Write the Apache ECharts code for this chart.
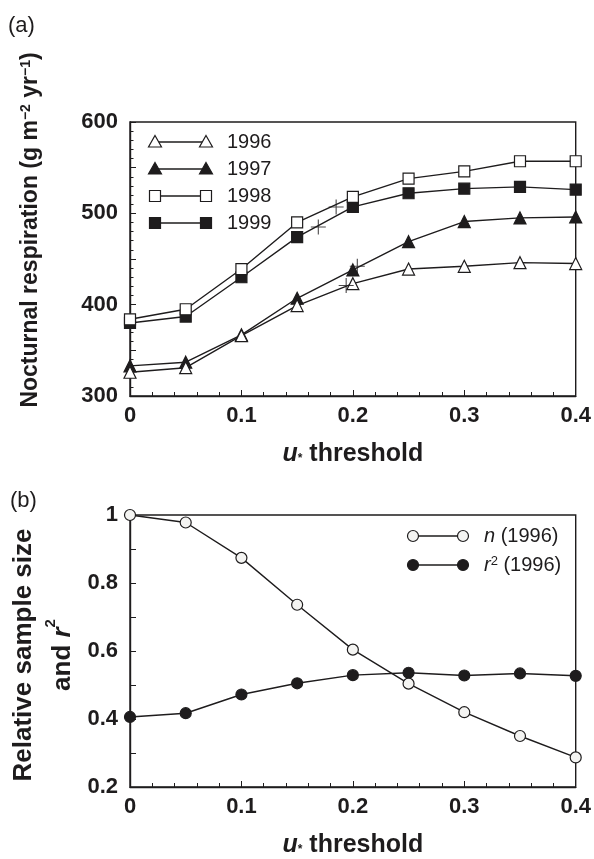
<!DOCTYPE html>
<html>
<head>
<meta charset="utf-8">
<script src="https://cdn.jsdelivr.net/npm/echarts@6/dist/echarts.min.js"></script>
<style>
  html, body { margin: 0; padding: 0; background: #fff; }
  #chart { width: 594px; height: 859px; }
</style>
</head>
<body>
<div id="chart"></div>
<script>
// u* threshold values shared by both panels
const thresholds = [0, 0.05, 0.1, 0.15, 0.2, 0.25, 0.3, 0.35, 0.4];

// Panel (a): nocturnal respiration (g m-2 yr-1) per year
const resp1996 = [326, 331, 366, 399, 423, 439, 442, 446, 445];
const resp1997 = [333, 337, 367, 407, 438, 469, 491, 495, 496];
const resp1998 = [384, 395, 439, 490, 518, 538, 546, 557, 557];
const resp1999 = [380, 387, 430, 474, 507, 522, 527, 529, 526];

// Cross markers on each year's curve (order: 1996, 1997, 1998, 1999)
const crossX = [0.194, 0.204, 0.185, 0.169];
const crossY = [421, 442, 507, 485];

// Panel (b): relative sample size and r2 for 1996
const nRel1996 = [1.0, 0.978, 0.874, 0.736, 0.604, 0.504, 0.42, 0.35, 0.287];
const r2_1996 = [0.406, 0.417, 0.472, 0.505, 0.529, 0.536, 0.528, 0.534, 0.527];

// Axis settings
const respTicks = { min: 300, max: 600, interval: 50, labelEvery: 100 };
const ratioTicks = { min: 0.2, max: 1, interval: 0.1 };
const xTicks = { min: 0, max: 0.4, interval: 0.1 };

const INK = '#1e1c1d';
const FONT = '"Liberation Sans", Arial, Helvetica, sans-serif';

const pairs = (xs, ys) => xs.map((x, i) => [x, ys[i]]);

function xAxisCfg(gridIndex) {
  return {
    type: 'value', gridIndex,
    min: xTicks.min, max: xTicks.max, interval: xTicks.interval,
    axisLine: { show: true, lineStyle: { color: INK, width: 1.4 } },
    axisTick: { show: true, inside: true, length: 6, lineStyle: { color: INK, width: 1 } },
    minorTick: { show: true, splitNumber: 5, length: 4, lineStyle: { color: INK, width: 1 } },
    splitLine: { show: false },
    axisLabel: { color: INK, fontFamily: FONT, fontWeight: 'bold', fontSize: 22, margin: 9 },
    name: '{u|u}{s|*} threshold',
    nameLocation: 'middle', nameGap: 46,
    nameTextStyle: {
      color: INK, fontFamily: FONT, fontWeight: 'bold', fontSize: 25,
      rich: {
        u: { fontFamily: FONT, fontWeight: 'bold', fontStyle: 'italic', fontSize: 25, color: INK },
        s: { fontFamily: FONT, fontWeight: 'bold', fontSize: 12, color: INK, verticalAlign: 'bottom', padding: [0, 0, 2, 0] }
      }
    }
  };
}

const symStyle = (filled) => ({
  color: filled ? INK : '#ffffff',
  borderColor: INK,
  borderWidth: 1.2
});

function lineSeries(name, xi, yi, data, symbol, size, filled, fillOverride) {
  const st = symStyle(filled);
  if (fillOverride) st.color = fillOverride;
  return {
    name, type: 'line', xAxisIndex: xi, yAxisIndex: yi,
    data, symbol, symbolSize: size, showAllSymbol: true,
    lineStyle: { color: INK, width: 1.4 },
    itemStyle: st,
    emphasis: { disabled: true },
    z: filled ? 3 : 4
  };
}

// Legend drawn as marker—line—marker plus text
function legendRow(x1, x2, y, shape, filled, richText, fill) {
  const els = [];
  els.push({ type: 'line', shape: { x1, y1: y, x2, y2: y }, style: { stroke: INK, lineWidth: 1.3 }, z: 10 });
  [x1, x2].forEach(cx => {
    const style = { fill: filled ? INK : (fill || '#fff'), stroke: INK, lineWidth: 1.2 };
    if (shape === 'triangle') {
      els.push({ type: 'polygon', shape: { points: [[cx, y - 6.5], [cx + 6.5, y + 5], [cx - 6.5, y + 5]] }, style, z: 11 });
    } else if (shape === 'rect') {
      els.push({ type: 'rect', shape: { x: cx - 5.5, y: y - 5.5, width: 11, height: 11 }, style, z: 11 });
    } else {
      els.push({ type: 'circle', shape: { cx, cy: y, r: 5.5 }, style, z: 11 });
    }
  });
  els.push({
    type: 'text', x: x2 + 21, y, z: 11,
    style: {
      text: richText, fill: INK, font: '20px ' + FONT, verticalAlign: 'middle', align: 'left',
      rich: {
        i: { fontFamily: FONT, fontSize: 20, fontStyle: 'italic', fill: INK },
        sup: { fontFamily: FONT, fontSize: 13, fill: INK, verticalAlign: 'top' }
      }
    }
  });
  return els;
}

const graphics = [
  { type: 'text', x: 8, y: 26, style: { text: '(a)', font: '22px ' + FONT, fill: INK, verticalAlign: 'middle' } },
  { type: 'text', x: 10, y: 501, style: { text: '(b)', font: '22px ' + FONT, fill: INK, verticalAlign: 'middle' } },
  {
    type: 'text', x: 31, y: 230, rotation: Math.PI / 2,
    style: {
      text: 'Nocturnal respiration (g m{sup|\u22122} yr{sup|\u22121})',
      font: 'bold 23px ' + FONT, fill: INK, align: 'center', verticalAlign: 'middle',
      rich: { sup: { fontFamily: FONT, fontWeight: 'bold', fontSize: 14, fill: INK, verticalAlign: 'top' } }
    }
  },
  {
    type: 'text', x: 43, y: 655, rotation: Math.PI / 2,
    style: {
      text: 'Relative sample size\nand {ri|r}{sup|2}',
      font: 'bold 26px ' + FONT, fill: INK, align: 'center', verticalAlign: 'middle', lineHeight: 39,
      rich: {
        ri: { fontFamily: FONT, fontWeight: 'bold', fontStyle: 'italic', fontSize: 26, fill: INK, lineHeight: 39 },
        sup: { fontFamily: FONT, fontWeight: 'bold', fontSize: 15, fill: INK, verticalAlign: 'top', lineHeight: 39 }
      }
    }
  }
].concat(
  legendRow(155, 206, 142, 'triangle', false, '1996'),
  legendRow(155, 206, 169, 'triangle', true, '1997'),
  legendRow(155, 206, 196, 'rect', false, '1998'),
  legendRow(155, 206, 223, 'rect', true, '1999'),
  legendRow(413, 463, 536, 'circle', false, '{i|n} (1996)', '#f4f4f2'),
  legendRow(413, 463, 565, 'circle', true, '{i|r}{sup|2} (1996)')
);

const chart = echarts.init(document.getElementById('chart'), null, { renderer: 'canvas' });
chart.setOption({
  animation: false,
  backgroundColor: '#ffffff',
  grid: [
    { left: 130, right: 17, top: 122, height: 274, show: true, borderColor: INK, borderWidth: 1.4, backgroundColor: 'transparent' },
    { left: 130, right: 17, top: 515, height: 276, show: true, borderColor: INK, borderWidth: 1.4, backgroundColor: 'transparent' }
  ],
  xAxis: [xAxisCfg(0), xAxisCfg(1)],
  yAxis: [
    {
      type: 'value', gridIndex: 0,
      min: respTicks.min, max: respTicks.max, interval: respTicks.interval,
      axisLine: { show: true, lineStyle: { color: INK, width: 1.4 } },
      axisTick: { show: true, inside: true, length: 6, lineStyle: { color: INK, width: 1 } },
      minorTick: { show: true, splitNumber: 5, length: 3.5, lineStyle: { color: INK, width: 1 } },
      splitLine: { show: false },
      axisLabel: {
        color: INK, fontFamily: FONT, fontWeight: 'bold', fontSize: 22, margin: 12,
        formatter: v => (Math.round(v) % respTicks.labelEvery === 0 ? String(Math.round(v)) : '')
      }
    },
    {
      type: 'value', gridIndex: 1,
      min: ratioTicks.min, max: ratioTicks.max, interval: ratioTicks.interval,
      axisLine: { show: true, lineStyle: { color: INK, width: 1.4 } },
      axisTick: { show: true, inside: true, length: 6, lineStyle: { color: INK, width: 1 } },
      splitLine: { show: false },
      axisLabel: {
        color: INK, fontFamily: FONT, fontWeight: 'bold', fontSize: 22, margin: 12,
        formatter: v => {
          const k = Math.round(v * 10);
          return k % 2 === 0 ? String(k / 10) : '';
        }
      }
    }
  ],
  series: [
    lineSeries('1996', 0, 0, pairs(thresholds, resp1996), 'triangle', 12, false),
    lineSeries('1997', 0, 0, pairs(thresholds, resp1997), 'triangle', 12, true),
    lineSeries('1998', 0, 0, pairs(thresholds, resp1998), 'rect', 11, false),
    lineSeries('1999', 0, 0, pairs(thresholds, resp1999), 'rect', 11, true),
    {
      name: 'cross', type: 'scatter', xAxisIndex: 0, yAxisIndex: 0,
      data: pairs(crossX, crossY),
      symbol: 'path://M0,8L16,8M8,0L8,16', symbolSize: 15,
      itemStyle: { color: 'none', borderColor: INK, borderWidth: 1.1 },
      emphasis: { disabled: true }, z: 6
    },
    lineSeries('n (1996)', 1, 1, pairs(thresholds, nRel1996), 'circle', 11, false, '#f4f4f2'),
    lineSeries('r2 (1996)', 1, 1, pairs(thresholds, r2_1996), 'circle', 11, true)
  ],
  graphic: graphics
});
</script>
</body>
</html>
